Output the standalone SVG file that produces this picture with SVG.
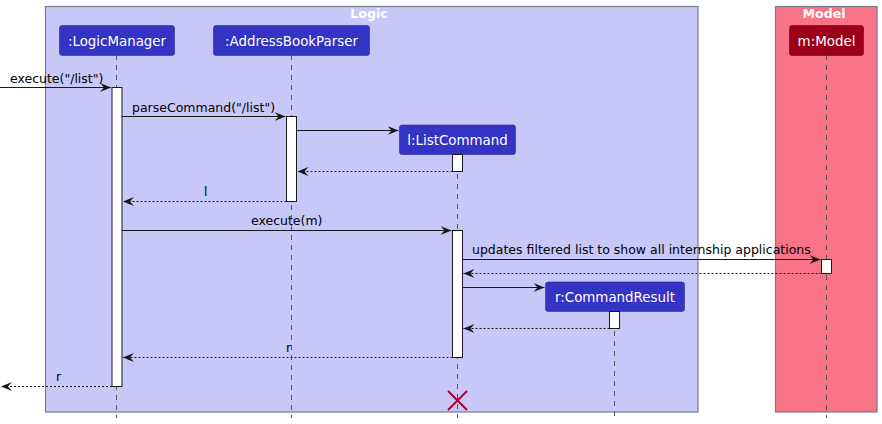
<svg xmlns="http://www.w3.org/2000/svg" width="882" height="424" viewBox="0 0 882 424">
<defs>
<style>
.box{stroke:#7a7a8c;stroke-width:1.2}
.title{font-family:"DejaVu Sans",sans-serif;font-weight:bold;font-size:12.6px;fill:#ffffff;text-anchor:middle}
.part{font-family:"DejaVu Sans",sans-serif;font-size:13.4px;fill:#ffffff;text-anchor:middle}
.msg{font-family:"DejaVu Sans",sans-serif;font-size:12.5px;fill:#000000}
.life{stroke:#555555;stroke-width:1;stroke-dasharray:5,5;fill:none}
.act{fill:#ffffff;stroke:#181818;stroke-width:1}
.call{stroke:#181818;stroke-width:1;fill:none}
.ret{stroke:#181818;stroke-width:1;stroke-dasharray:2,2;fill:none}
.pb{fill:#3333c4;stroke:#2a2a90;stroke-width:0.6}
.pm{fill:#9c0018;stroke:#6e0010;stroke-width:0.6}
</style>
<marker id="ah" viewBox="0 0 12 10" refX="11" refY="5" markerWidth="12" markerHeight="10" markerUnits="userSpaceOnUse" orient="auto">
<polygon points="0,0.5 11,5 0,9.5 4,5" fill="#181818"/>
</marker>
</defs>

<g id="box-logic">
<rect class="box" x="45.5" y="6.5" width="652.5" height="405.5" fill="#c8c8f8"/>
<text class="title" x="369" y="18">Logic</text>
</g>
<g id="box-model">
<rect class="box" x="775.5" y="6.5" width="101.5" height="405.5" fill="#f87385"/>
<text class="title" x="824" y="18">Model</text>
</g>

<g id="lifelines">
<line class="life" x1="116.5" y1="55" x2="116.5" y2="418"/>
<line class="life" x1="291.5" y1="55" x2="291.5" y2="418"/>
<line class="life" x1="457.5" y1="154" x2="457.5" y2="418"/>
<line class="life" x1="614.5" y1="311" x2="614.5" y2="418"/>
<line class="life" x1="826.5" y1="55" x2="826.5" y2="418"/>
</g>

<g id="p-logicmanager">
<rect class="pb" x="59.5" y="25.5" width="115" height="30" rx="2.5"/>
<text class="part" x="117" y="45.5">:LogicManager</text>
<rect class="act" x="112" y="87.5" width="10" height="299"/>
</g>
<g id="p-addressbookparser">
<rect class="pb" x="213.5" y="25.5" width="156" height="30" rx="2.5"/>
<text class="part" x="291.5" y="45.5">:AddressBookParser</text>
<rect class="act" x="286.5" y="116.5" width="10" height="85"/>
</g>
<g id="p-listcommand">
<rect class="pb" x="399.5" y="125" width="116" height="29.5" rx="2.5"/>
<text class="part" x="457.5" y="145">l:ListCommand</text>
<rect class="act" x="452.5" y="154.5" width="10" height="17"/>
<rect class="act" x="452.5" y="230.5" width="10" height="127"/>
</g>
<g id="p-commandresult">
<rect class="pb" x="545.5" y="282" width="139" height="29.5" rx="2.5"/>
<text class="part" x="615" y="302">r:CommandResult</text>
<rect class="act" x="609.5" y="311.5" width="10" height="17"/>
</g>
<g id="p-model">
<rect class="pm" x="789.5" y="25.5" width="74" height="30" rx="2.5"/>
<text class="part" x="826.5" y="45.5">m:Model</text>
<rect class="act" x="821.5" y="259.5" width="10" height="14"/>
</g>

<g id="connectors">
<line class="call" x1="0" y1="87.5" x2="111" y2="87.5" marker-end="url(#ah)"/>
<text class="msg" x="10" y="82.5">execute("/list")</text>
<line class="call" x1="122" y1="116.5" x2="285.5" y2="116.5" marker-end="url(#ah)"/>
<text class="msg" x="132" y="111.5">parseCommand("/list")</text>
<line class="call" x1="296.5" y1="130.5" x2="398.5" y2="130.5" marker-end="url(#ah)"/>
<line class="ret" x1="452.5" y1="171.5" x2="297.5" y2="171.5" marker-end="url(#ah)"/>
<line class="ret" x1="286.5" y1="201.5" x2="123" y2="201.5" marker-end="url(#ah)"/>
<text class="msg" x="204" y="195.5">l</text>
<line class="call" x1="122" y1="230.5" x2="451.5" y2="230.5" marker-end="url(#ah)"/>
<text class="msg" x="251" y="224.5">execute(m)</text>
<line class="call" x1="462.5" y1="259.5" x2="820.5" y2="259.5" marker-end="url(#ah)"/>
<text class="msg" x="472" y="254">updates filtered list to show all internship applications</text>
<line class="ret" x1="821.5" y1="273.5" x2="463.5" y2="273.5" marker-end="url(#ah)"/>
<line class="call" x1="462.5" y1="287.5" x2="544.5" y2="287.5" marker-end="url(#ah)"/>
<line class="ret" x1="609.5" y1="328.5" x2="463.5" y2="328.5" marker-end="url(#ah)"/>
<line class="ret" x1="452.5" y1="357.5" x2="123" y2="357.5" marker-end="url(#ah)"/>
<text class="msg" x="286" y="352">r</text>
<line class="ret" x1="112" y1="386.5" x2="1" y2="386.5" marker-end="url(#ah)"/>
<text class="msg" x="56" y="381">r</text>
</g>

<g id="destroy">
<line x1="448" y1="391" x2="467" y2="410" stroke="#a80036" stroke-width="2"/>
<line x1="467" y1="391" x2="448" y2="410" stroke="#a80036" stroke-width="2"/>
</g>
</svg>
